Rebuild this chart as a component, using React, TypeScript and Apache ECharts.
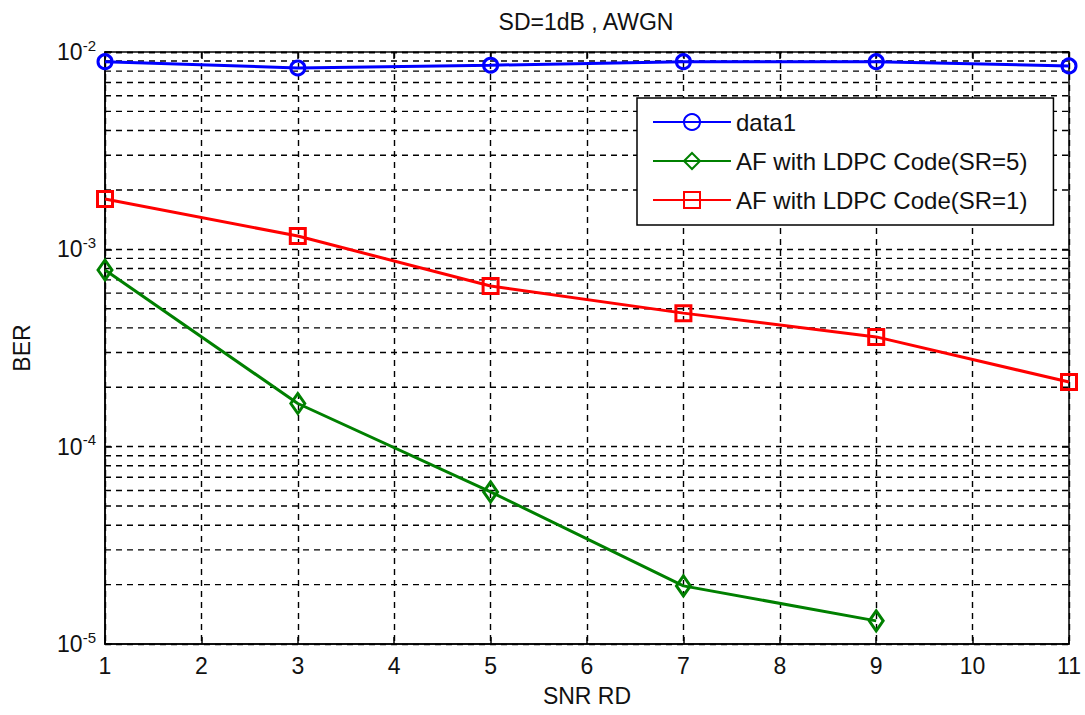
import { useEffect, useRef } from "react";
import * as echarts from "echarts";

const snr = [1, 3, 5, 7, 9, 11];
const snrShort = [1, 3, 5, 7, 9];
const data1 = [0.00893, 0.0083, 0.00857, 0.00893, 0.00893, 0.0085];
const sr5 = [7.85e-4, 1.655e-4, 5.9e-5, 1.97e-5, 1.31e-5];
const sr1 = [1.8e-3, 1.168e-3, 6.52e-4, 4.75e-4, 3.6e-4, 2.125e-4];
const seriesNames = ["data1", "AF with LDPC Code(SR=5)", "AF with LDPC Code(SR=1)"];
const minorGrid = [
  2e-5, 3e-5, 4e-5, 5e-5, 6e-5, 7e-5, 8e-5, 9e-5,
  2e-4, 3e-4, 4e-4, 5e-4, 6e-4, 7e-4, 8e-4, 9e-4,
  2e-3, 3e-3, 4e-3, 5e-3, 6e-3, 7e-3, 8e-3, 9e-3,
];
const xRange = [1, 11];
const titleText = "SD=1dB , AWGN";
const xName = "SNR RD";
const yName = "BER";

const FONT = "'Liberation Sans', Arial, Helvetica, sans-serif";

export default function App() {
  const ref = useRef<HTMLDivElement>(null);
  useEffect(() => {
    if (!ref.current) return;
    const chart = echarts.init(ref.current, null, { renderer: "svg" });
    const pairs = (xs: number[], ys: number[]) => xs.map((x, i) => [x, ys[i]]);
    const dash = [6, 5];
    const minorSeries = minorGrid.map((v) => ({
      name: "minor-grid",
      type: "line",
      z: 1,
      silent: true,
      symbol: "none",
      data: xRange.map((x) => [x, v]),
      lineStyle: { color: "#000", type: dash, width: 1.4 },
      emphasis: { disabled: true },
      tooltip: { show: false },
    }));
    const option: any = {
      animation: false,
      backgroundColor: "#fff",
      textStyle: { fontFamily: FONT },
      grid: {
        left: 105,
        top: 52,
        width: 964,
        height: 592,
        show: true,
        borderColor: "#000",
        borderWidth: 1.5,
        backgroundColor: "#fff",
      },
      graphic: [
        {
          type: "text",
          x: 586,
          y: 22,
          style: {
            text: titleText,
            fontSize: 23,
            fontFamily: FONT,
            fill: "#111",
            align: "center",
            verticalAlign: "middle",
          },
        },
      ],
      legend: {
        data: seriesNames,
        orient: "vertical",
        left: 637,
        top: 98,
        padding: [12, 26, 13, 15],
        itemWidth: 78,
        itemHeight: 20,
        itemGap: 15,
        backgroundColor: "#fff",
        borderColor: "#000",
        borderWidth: 1.5,
        textStyle: { fontSize: 24, color: "#111", fontFamily: FONT },
      },
      xAxis: [
        {
          type: "value",
          min: 1,
          max: 11,
          interval: 1,
          name: xName,
          nameLocation: "middle",
          nameGap: 40,
          nameTextStyle: { fontSize: 23, color: "#111", fontFamily: FONT },
          axisLine: { show: true, lineStyle: { color: "#000", width: 1.5 } },
          axisTick: { show: true, inside: true, length: 7, lineStyle: { color: "#000", width: 1.5 } },
          axisLabel: { fontSize: 23, color: "#111", margin: 10, fontFamily: FONT },
          splitLine: { show: true, lineStyle: { color: "#000", type: dash, width: 1.4 } },
        },
        {
          type: "value",
          min: 1,
          max: 11,
          interval: 1,
          position: "top",
          axisLine: { show: false },
          axisTick: { show: true, inside: true, length: 7, lineStyle: { color: "#000", width: 1.5 } },
          axisLabel: { show: false },
          splitLine: { show: false },
        },
      ],
      yAxis: [
        {
          type: "log",
          logBase: 10,
          min: 1e-5,
          max: 1e-2,
          splitNumber: 3,
          name: yName,
          nameLocation: "middle",
          nameGap: 72,
          nameTextStyle: { fontSize: 23, color: "#111", fontFamily: FONT },
          axisLine: { show: true, lineStyle: { color: "#000", width: 1.5 } },
          axisTick: { show: true, inside: true, length: 7, lineStyle: { color: "#000", width: 1.5 } },
          axisLabel: {
            margin: 9,
            formatter: (v: number) => `{b|10}{s|${Math.round(Math.log10(v))}}`,
            rich: {
              b: { fontSize: 23, color: "#111", fontFamily: FONT },
              s: { fontSize: 15, color: "#111", fontFamily: FONT, verticalAlign: "bottom", padding: [0, 0, 14, 0] },
            },
          },
          splitLine: { show: true, lineStyle: { color: "#000", type: dash, width: 1.4 } },
        },
        {
          type: "log",
          logBase: 10,
          min: 1e-5,
          max: 1e-2,
          splitNumber: 3,
          position: "right",
          axisLine: { show: false },
          axisTick: { show: true, inside: true, length: 7, lineStyle: { color: "#000", width: 1.5 } },
          axisLabel: { show: false },
          splitLine: { show: false },
        },
      ],
      series: [
        ...minorSeries,
        {
          name: seriesNames[0],
          type: "line",
          z: 3,
          data: pairs(snr, data1),
          symbol: "circle",
          symbolSize: 14,
          lineStyle: { color: "#0000ff", width: 3 },
          itemStyle: { color: "rgba(0,0,0,0)", borderColor: "#0000ff", borderWidth: 3 },
        },
        {
          name: seriesNames[1],
          type: "line",
          z: 4,
          data: pairs(snrShort, sr5),
          symbol: "diamond",
          symbolSize: [14, 20],
          lineStyle: { color: "#008000", width: 3 },
          itemStyle: { color: "rgba(0,0,0,0)", borderColor: "#008000", borderWidth: 3 },
        },
        {
          name: seriesNames[2],
          type: "line",
          z: 4,
          data: pairs(snr, sr1),
          symbol: "rect",
          symbolSize: 15,
          lineStyle: { color: "#ff0000", width: 3 },
          itemStyle: { color: "rgba(0,0,0,0)", borderColor: "#ff0000", borderWidth: 3 },
        },
      ],
    };
    chart.setOption(option);
    return () => chart.dispose();
  }, []);
  return (
    <div
      ref={ref}
      style={{ position: "fixed", left: 0, top: 0, width: 1085, height: 715, background: "#fff" }}
    />
  );
}
